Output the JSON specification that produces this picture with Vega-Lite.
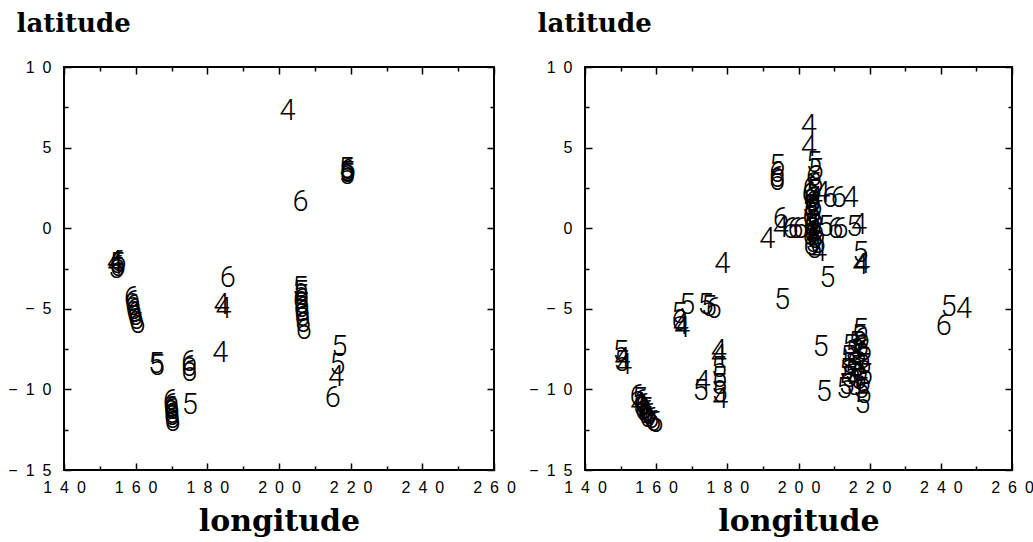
{
"$schema": "https://vega.github.io/schema/vega-lite/v6.json",
"background": "white",
"padding": {"left": 6, "top": 9, "right": 0, "bottom": 0},
"bounds": "flush",
"spacing": 91,
"config": {
  "view": {"stroke": "black", "strokeWidth": 2},
  "axis": {"domain": false, "grid": false, "tickColor": "black", "tickWidth": 1.5, "labelFont": "Liberation Sans", "labelFontSize": 16, "labelColor": "black", "titleFont": "DejaVu Serif", "titleFontWeight": "bold", "titleColor": "black", "labelOverlap": false, "labelFlush": false},
  "text": {"font": "Roboto", "fontWeight": 300, "fontSize": 29, "baseline": "middle", "align": "center", "color": "black"}
},
"datasets": {
"left": [
{"lon":202.4,"lat":7.3,"m":"4"},
{"lon":218.8,"lat":3.7,"m":"5"},{"lon":219.1,"lat":3.5,"m":"6"},{"lon":218.9,"lat":3.3,"m":"5"},{"lon":219.2,"lat":3.6,"m":"6"},{"lon":219.0,"lat":3.4,"m":"5"},
{"lon":206.0,"lat":1.65,"m":"6"},
{"lon":154.2,"lat":-2.1,"m":"4"},{"lon":154.8,"lat":-2.2,"m":"5"},{"lon":155.0,"lat":-2.4,"m":"6"},{"lon":154.5,"lat":-2.5,"m":"5"},{"lon":154.3,"lat":-2.3,"m":"4"},{"lon":155.2,"lat":-2.1,"m":"6"},
{"lon":158.9,"lat":-4.35,"m":"6"},{"lon":159.1,"lat":-4.6,"m":"6"},{"lon":159.3,"lat":-4.85,"m":"6"},{"lon":159.5,"lat":-5.05,"m":"6"},{"lon":159.7,"lat":-5.25,"m":"6"},{"lon":159.9,"lat":-5.45,"m":"6"},{"lon":160.2,"lat":-5.7,"m":"6"},{"lon":160.5,"lat":-5.95,"m":"6"},
{"lon":185.7,"lat":-3.06,"m":"6"},
{"lon":184.0,"lat":-4.75,"m":"4"},{"lon":184.5,"lat":-5.0,"m":"4"},
{"lon":183.6,"lat":-7.77,"m":"4"},
{"lon":165.7,"lat":-8.45,"m":"5"},{"lon":165.9,"lat":-8.55,"m":"5"},
{"lon":174.9,"lat":-8.3,"m":"6"},{"lon":174.9,"lat":-8.6,"m":"6"},{"lon":175.0,"lat":-8.9,"m":"6"},
{"lon":175.1,"lat":-10.98,"m":"5"},
{"lon":169.8,"lat":-10.75,"m":"6"},{"lon":169.9,"lat":-10.95,"m":"6"},{"lon":170.0,"lat":-11.15,"m":"6"},{"lon":170.0,"lat":-11.3,"m":"6"},{"lon":170.1,"lat":-11.5,"m":"6"},{"lon":170.1,"lat":-11.65,"m":"6"},{"lon":170.2,"lat":-11.85,"m":"6"},{"lon":170.3,"lat":-12.05,"m":"6"},
{"lon":205.9,"lat":-3.7,"m":"5"},{"lon":206.0,"lat":-3.95,"m":"5"},{"lon":206.1,"lat":-4.2,"m":"5"},{"lon":206.1,"lat":-4.45,"m":"6"},{"lon":206.2,"lat":-4.7,"m":"5"},{"lon":206.3,"lat":-4.95,"m":"6"},{"lon":206.4,"lat":-5.2,"m":"6"},{"lon":206.5,"lat":-5.5,"m":"6"},{"lon":206.7,"lat":-5.85,"m":"6"},{"lon":206.9,"lat":-6.3,"m":"6"},
{"lon":216.8,"lat":-7.34,"m":"5"},{"lon":216.3,"lat":-8.51,"m":"5"},{"lon":215.9,"lat":-9.26,"m":"4"},{"lon":215.0,"lat":-10.55,"m":"6"}
],
"right": [
{"lon":202.9,"lat":6.33,"m":"4"},{"lon":202.9,"lat":5.03,"m":"4"},
{"lon":204.3,"lat":4.06,"m":"5"},{"lon":204.8,"lat":3.63,"m":"5"},{"lon":204.3,"lat":3.2,"m":"6"},{"lon":204.8,"lat":2.77,"m":"6"},
{"lon":194.0,"lat":3.85,"m":"5"},{"lon":194.0,"lat":3.42,"m":"6"},{"lon":194.0,"lat":3.1,"m":"6"},{"lon":194.0,"lat":2.9,"m":"6"},
{"lon":203.4,"lat":2.5,"m":"6"},{"lon":204.2,"lat":2.3,"m":"5"},{"lon":203.1,"lat":2.1,"m":"6"},{"lon":204.6,"lat":1.9,"m":"4"},{"lon":203.6,"lat":1.8,"m":"6"},{"lon":204.0,"lat":1.6,"m":"6"},{"lon":203.2,"lat":1.4,"m":"5"},{"lon":204.5,"lat":1.3,"m":"6"},{"lon":203.7,"lat":1.1,"m":"6"},{"lon":204.1,"lat":0.9,"m":"5"},{"lon":203.3,"lat":0.7,"m":"6"},{"lon":204.7,"lat":0.6,"m":"6"},{"lon":203.9,"lat":0.4,"m":"6"},{"lon":204.3,"lat":0.2,"m":"5"},{"lon":203.5,"lat":0.1,"m":"6"},{"lon":204.9,"lat":-0.1,"m":"6"},{"lon":203.8,"lat":-0.3,"m":"6"},{"lon":205.2,"lat":-0.4,"m":"5"},{"lon":203.4,"lat":-0.5,"m":"6"},{"lon":204.6,"lat":-0.7,"m":"6"},{"lon":204.0,"lat":-0.9,"m":"5"},{"lon":205.4,"lat":-1.0,"m":"6"},{"lon":203.6,"lat":-1.1,"m":"6"},{"lon":204.4,"lat":-1.3,"m":"5"},{"lon":205.8,"lat":-1.5,"m":"4"},
{"lon":206.7,"lat":2.2,"m":"4"},{"lon":208.9,"lat":1.9,"m":"6"},{"lon":211.3,"lat":1.9,"m":"6"},{"lon":214.6,"lat":1.9,"m":"4"},
{"lon":195.0,"lat":0.6,"m":"6"},{"lon":195.0,"lat":0.0,"m":"4"},{"lon":197.8,"lat":-0.05,"m":"6"},{"lon":199.2,"lat":-0.05,"m":"6"},{"lon":200.6,"lat":-0.05,"m":"6"},{"lon":207.6,"lat":0.07,"m":"5"},{"lon":210.4,"lat":-0.05,"m":"6"},{"lon":211.8,"lat":-0.05,"m":"6"},{"lon":215.6,"lat":0.07,"m":"5"},{"lon":217.0,"lat":0.2,"m":"4"},
{"lon":191.2,"lat":-0.69,"m":"4"},{"lon":178.6,"lat":-2.2,"m":"4"},
{"lon":217.4,"lat":-1.55,"m":"5"},{"lon":217.9,"lat":-2.2,"m":"4"},{"lon":217.4,"lat":-2.3,"m":"4"},
{"lon":208.1,"lat":-3.06,"m":"5"},{"lon":195.4,"lat":-4.46,"m":"5"},
{"lon":242.2,"lat":-4.9,"m":"5"},{"lon":246.5,"lat":-5.0,"m":"4"},{"lon":240.8,"lat":-6.08,"m":"6"},
{"lon":168.7,"lat":-4.79,"m":"5"},{"lon":166.4,"lat":-5.33,"m":"5"},{"lon":166.6,"lat":-5.76,"m":"6"},{"lon":166.9,"lat":-5.98,"m":"4"},{"lon":167.3,"lat":-6.2,"m":"4"},
{"lon":173.9,"lat":-4.79,"m":"5"},{"lon":174.8,"lat":-4.9,"m":"5"},{"lon":176.2,"lat":-5.0,"m":"6"},
{"lon":150.0,"lat":-7.7,"m":"5"},{"lon":150.5,"lat":-8.13,"m":"4"},{"lon":151.0,"lat":-8.46,"m":"4"},{"lon":150.3,"lat":-8.3,"m":"5"},
{"lon":154.8,"lat":-10.4,"m":"6"},{"lon":155.3,"lat":-10.6,"m":"5"},{"lon":155.9,"lat":-10.75,"m":"6"},{"lon":155.0,"lat":-10.9,"m":"4"},{"lon":156.4,"lat":-10.95,"m":"6"},{"lon":155.8,"lat":-11.1,"m":"6"},{"lon":156.9,"lat":-11.2,"m":"5"},{"lon":156.3,"lat":-11.35,"m":"6"},{"lon":157.4,"lat":-11.4,"m":"6"},{"lon":157.0,"lat":-11.55,"m":"6"},{"lon":158.0,"lat":-11.6,"m":"6"},{"lon":157.6,"lat":-11.75,"m":"6"},{"lon":158.6,"lat":-11.85,"m":"6"},{"lon":159.2,"lat":-12.0,"m":"6"},{"lon":159.8,"lat":-12.1,"m":"6"},
{"lon":177.6,"lat":-7.6,"m":"4"},{"lon":177.6,"lat":-7.9,"m":"4"},{"lon":177.6,"lat":-8.7,"m":"5"},{"lon":177.7,"lat":-9.3,"m":"5"},{"lon":177.7,"lat":-9.75,"m":"5"},{"lon":177.8,"lat":-10.2,"m":"5"},{"lon":178.0,"lat":-10.6,"m":"4"},{"lon":173.0,"lat":-9.54,"m":"4"},{"lon":172.5,"lat":-10.08,"m":"5"},
{"lon":206.2,"lat":-7.38,"m":"5"},{"lon":207.1,"lat":-10.19,"m":"5"},
{"lon":217.4,"lat":-6.3,"m":"5"},{"lon":217.0,"lat":-6.7,"m":"5"},{"lon":217.8,"lat":-6.9,"m":"6"},{"lon":216.2,"lat":-7.1,"m":"5"},{"lon":214.5,"lat":-7.3,"m":"5"},{"lon":217.5,"lat":-7.4,"m":"5"},{"lon":218.4,"lat":-7.6,"m":"6"},{"lon":215.3,"lat":-7.7,"m":"5"},{"lon":216.8,"lat":-7.9,"m":"5"},{"lon":213.9,"lat":-8.0,"m":"5"},{"lon":217.9,"lat":-8.1,"m":"5"},{"lon":215.8,"lat":-8.3,"m":"6"},{"lon":214.3,"lat":-8.4,"m":"5"},{"lon":218.2,"lat":-8.5,"m":"5"},{"lon":216.5,"lat":-8.6,"m":"5"},{"lon":213.6,"lat":-8.8,"m":"5"},{"lon":217.3,"lat":-8.9,"m":"6"},{"lon":215.1,"lat":-9.0,"m":"5"},{"lon":218.6,"lat":-9.1,"m":"5"},{"lon":214.2,"lat":-9.3,"m":"5"},{"lon":216.9,"lat":-9.4,"m":"5"},{"lon":218.1,"lat":-9.6,"m":"6"},{"lon":213.5,"lat":-9.7,"m":"5"},{"lon":215.6,"lat":-9.8,"m":"5"},{"lon":217.6,"lat":-10.0,"m":"5"},{"lon":218.3,"lat":-10.3,"m":"5"},{"lon":212.8,"lat":-10.0,"m":"5"},{"lon":217.9,"lat":-10.9,"m":"5"}
]
},
"hconcat": [
{
 "width": 430, "height": 403,
 "data": {"name": "left"},
 "layer": [
  {"mark": {"type": "text"},
   "encoding": {
    "x": {"field": "lon", "type": "quantitative", "scale": {"domain": [140, 260], "nice": false, "zero": false},
      "axis": {"orient": "bottom", "values": [140,150,160,170,180,190,200,210,220,230,240,250,260], "labelExpr": "datum.value % 20 === 0 ? join(split(datum.label, ''), '\u2002') : ''", "labelFont": "Liberation Sans", "labelFontSize": 16, "tickSize": {"condition": {"test": "datum.value % 20 === 0", "value": -7}, "value": -4}, "labelPadding": 16, "title": "longitude", "titleFontSize": 30, "titleY": 60, "titleBaseline": "alphabetic"}},
    "y": {"field": "lat", "type": "quantitative", "scale": {"domain": [-15, 10], "nice": false, "zero": false},
      "axis": {"orient": "left", "values": [-15,-12.5,-10,-7.5,-5,-2.5,0,2.5,5,7.5,10], "labelExpr": "datum.value % 5 === 0 ? join(split(datum.label, ''), '\u2002') : ''", "labelFont": "Liberation Sans", "labelFontSize": 16, "tickSize": {"condition": {"test": "datum.value % 5 === 0", "value": -7}, "value": -4}, "labelPadding": 20, "title": "latitude", "titleAngle": 0, "titleAlign": "left", "titleBaseline": "alphabetic", "titleX": -48, "titleY": -36, "titleFontSize": 26}},
    "text": {"field": "m"}
   }},
  {"mark": {"type": "point", "opacity": 0},
   "encoding": {
    "x": {"field": "lon", "type": "quantitative", "scale": {"domain": [140, 260], "nice": false, "zero": false},
      "axis": {"orient": "top", "values": [140,150,160,170,180,190,200,210,220,230,240,250,260], "labels": false, "title": null, "tickSize": {"condition": {"test": "datum.value % 20 === 0", "value": -7}, "value": -4}}},
    "y": {"field": "lat", "type": "quantitative", "scale": {"domain": [-15, 10], "nice": false, "zero": false},
      "axis": {"orient": "right", "values": [-15,-12.5,-10,-7.5,-5,-2.5,0,2.5,5,7.5,10], "labels": false, "title": null, "tickSize": {"condition": {"test": "datum.value % 5 === 0", "value": -7}, "value": -4}}}
   }}
 ],
 "resolve": {"axis": {"x": "independent", "y": "independent"}}
},
{
 "width": 427, "height": 403,
 "data": {"name": "right"},
 "layer": [
  {"mark": {"type": "text"},
   "encoding": {
    "x": {"field": "lon", "type": "quantitative", "scale": {"domain": [140, 260], "nice": false, "zero": false},
      "axis": {"orient": "bottom", "values": [140,150,160,170,180,190,200,210,220,230,240,250,260], "labelExpr": "datum.value % 20 === 0 ? join(split(datum.label, ''), '\u2002') : ''", "labelFont": "Liberation Sans", "labelFontSize": 16, "tickSize": {"condition": {"test": "datum.value % 20 === 0", "value": -7}, "value": -4}, "labelPadding": 16, "title": "longitude", "titleFontSize": 30, "titleY": 60, "titleBaseline": "alphabetic"}},
    "y": {"field": "lat", "type": "quantitative", "scale": {"domain": [-15, 10], "nice": false, "zero": false},
      "axis": {"orient": "left", "values": [-15,-12.5,-10,-7.5,-5,-2.5,0,2.5,5,7.5,10], "labelExpr": "datum.value % 5 === 0 ? join(split(datum.label, ''), '\u2002') : ''", "labelFont": "Liberation Sans", "labelFontSize": 16, "tickSize": {"condition": {"test": "datum.value % 5 === 0", "value": -7}, "value": -4}, "labelPadding": 20, "title": "latitude", "titleAngle": 0, "titleAlign": "left", "titleBaseline": "alphabetic", "titleX": -48, "titleY": -36, "titleFontSize": 26}},
    "text": {"field": "m"}
   }},
  {"mark": {"type": "point", "opacity": 0},
   "encoding": {
    "x": {"field": "lon", "type": "quantitative", "scale": {"domain": [140, 260], "nice": false, "zero": false},
      "axis": {"orient": "top", "values": [140,150,160,170,180,190,200,210,220,230,240,250,260], "labels": false, "title": null, "tickSize": {"condition": {"test": "datum.value % 20 === 0", "value": -7}, "value": -4}}},
    "y": {"field": "lat", "type": "quantitative", "scale": {"domain": [-15, 10], "nice": false, "zero": false},
      "axis": {"orient": "right", "values": [-15,-12.5,-10,-7.5,-5,-2.5,0,2.5,5,7.5,10], "labels": false, "title": null, "tickSize": {"condition": {"test": "datum.value % 5 === 0", "value": -7}, "value": -4}}}
   }}
 ],
 "resolve": {"axis": {"x": "independent", "y": "independent"}}
}
]
}
